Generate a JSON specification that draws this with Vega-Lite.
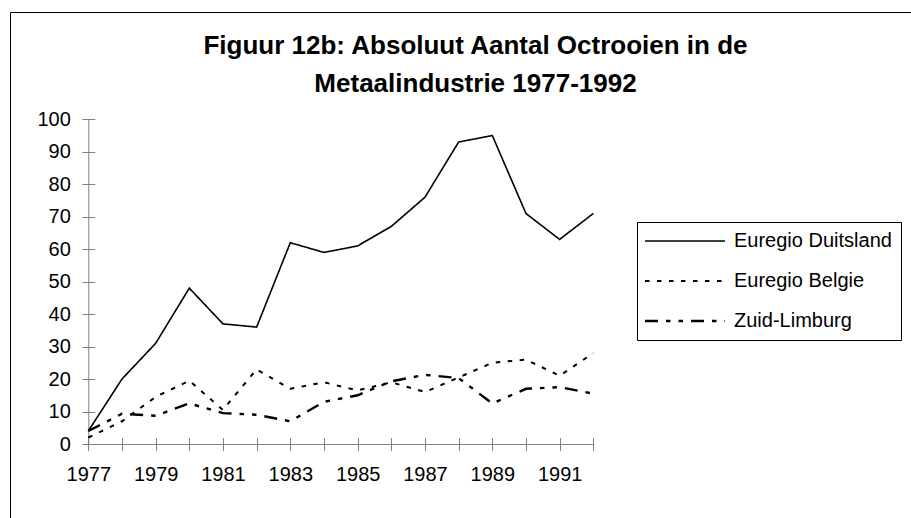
{
  "$schema": "https://vega.github.io/schema/vega-lite/v6.json",
  "autosize": {"type": "none"},
  "padding": {"left": 10, "top": 12, "right": 0, "bottom": 0},
  "width": 901,
  "height": 506,
  "config": {
    "font": "Liberation Sans",
    "view": {"stroke": "black", "strokeWidth": 1}
  },
  "title": {
    "text": ["Figuur 12b: Absoluut Aantal Octrooien in de", "Metaalindustrie 1977-1992"],
    "font": "Liberation Sans",
    "fontSize": 26,
    "fontWeight": "bold",
    "color": "black",
    "anchor": "middle",
    "baseline": "top",
    "offset": -85,
    "dx": 15,
    "lineHeight": 38
  },
  "data": {
    "values": [
      {"year": 1977, "series": "Euregio Duitsland", "value": 4},
      {"year": 1978, "series": "Euregio Duitsland", "value": 20},
      {"year": 1979, "series": "Euregio Duitsland", "value": 31},
      {"year": 1980, "series": "Euregio Duitsland", "value": 48},
      {"year": 1981, "series": "Euregio Duitsland", "value": 37},
      {"year": 1982, "series": "Euregio Duitsland", "value": 36},
      {"year": 1983, "series": "Euregio Duitsland", "value": 62},
      {"year": 1984, "series": "Euregio Duitsland", "value": 59},
      {"year": 1985, "series": "Euregio Duitsland", "value": 61},
      {"year": 1986, "series": "Euregio Duitsland", "value": 67},
      {"year": 1987, "series": "Euregio Duitsland", "value": 76},
      {"year": 1988, "series": "Euregio Duitsland", "value": 93},
      {"year": 1989, "series": "Euregio Duitsland", "value": 95},
      {"year": 1990, "series": "Euregio Duitsland", "value": 71},
      {"year": 1991, "series": "Euregio Duitsland", "value": 63},
      {"year": 1992, "series": "Euregio Duitsland", "value": 71},
      {"year": 1977, "series": "Euregio Belgie", "value": 2},
      {"year": 1978, "series": "Euregio Belgie", "value": 7},
      {"year": 1979, "series": "Euregio Belgie", "value": 14.5},
      {"year": 1980, "series": "Euregio Belgie", "value": 19.5},
      {"year": 1981, "series": "Euregio Belgie", "value": 10.5},
      {"year": 1982, "series": "Euregio Belgie", "value": 23},
      {"year": 1983, "series": "Euregio Belgie", "value": 17},
      {"year": 1984, "series": "Euregio Belgie", "value": 19},
      {"year": 1985, "series": "Euregio Belgie", "value": 16.5},
      {"year": 1986, "series": "Euregio Belgie", "value": 19},
      {"year": 1987, "series": "Euregio Belgie", "value": 16},
      {"year": 1988, "series": "Euregio Belgie", "value": 20.5},
      {"year": 1989, "series": "Euregio Belgie", "value": 25},
      {"year": 1990, "series": "Euregio Belgie", "value": 26},
      {"year": 1991, "series": "Euregio Belgie", "value": 21},
      {"year": 1992, "series": "Euregio Belgie", "value": 28},
      {"year": 1977, "series": "Zuid-Limburg", "value": 4},
      {"year": 1978, "series": "Zuid-Limburg", "value": 9.3},
      {"year": 1979, "series": "Zuid-Limburg", "value": 8.7},
      {"year": 1980, "series": "Zuid-Limburg", "value": 12.5},
      {"year": 1981, "series": "Zuid-Limburg", "value": 9.5},
      {"year": 1982, "series": "Zuid-Limburg", "value": 9},
      {"year": 1983, "series": "Zuid-Limburg", "value": 7},
      {"year": 1984, "series": "Zuid-Limburg", "value": 13},
      {"year": 1985, "series": "Zuid-Limburg", "value": 15},
      {"year": 1986, "series": "Zuid-Limburg", "value": 19.3},
      {"year": 1987, "series": "Zuid-Limburg", "value": 21.3},
      {"year": 1988, "series": "Zuid-Limburg", "value": 20.3},
      {"year": 1989, "series": "Zuid-Limburg", "value": 12.5},
      {"year": 1990, "series": "Zuid-Limburg", "value": 17},
      {"year": 1991, "series": "Zuid-Limburg", "value": 17.5},
      {"year": 1992, "series": "Zuid-Limburg", "value": 15.5}
    ]
  },
  "resolve": {"axis": {"x": "independent", "y": "independent"}},
  "layer": [
    {
      "mark": {"type": "line", "stroke": "black", "strokeCap": "butt"},
      "encoding": {
        "x": {
          "field": "year", "type": "quantitative",
          "scale": {"domain": [1977, 1992], "range": [78.3, 583.3], "nice": false, "zero": false},
          "axis": {
            "orient": "bottom", "offset": -74, "title": null,
            "values": [1977,1978,1979,1980,1981,1982,1983,1984,1985,1986,1987,1988,1989,1990,1991,1992],
            "labelExpr": "datum.value % 2 === 1 ? '' + datum.value : ''",
            "labelFontSize": 20, "labelColor": "black", "labelPadding": 14, "labelFont": "Liberation Sans",
            "tickSize": 6, "tickColor": "#808080", "domainColor": "#808080", "grid": false,
            "labelOverlap": false, "labelFlush": false
          }
        },
        "y": {
          "field": "value", "type": "quantitative",
          "scale": {"domain": [0, 100], "range": [432, 107.3], "nice": false},
          "axis": {
            "orient": "left", "offset": -78.3, "title": null,
            "values": [0,10,20,30,40,50,60,70,80,90,100],
            "labelFontSize": 20, "labelColor": "black", "labelPadding": 12, "labelFont": "Liberation Sans",
            "tickSize": 6, "tickColor": "#808080", "domainColor": "#808080", "grid": false,
            "labelOverlap": false, "labelFlush": false
          }
        },
        "strokeDash": {
          "field": "series", "type": "nominal",
          "scale": {
            "domain": ["Euregio Duitsland", "Euregio Belgie", "Zuid-Limburg"],
            "range": [[1, 0], [4.5, 7.5], [13, 8, 4.5, 8, 4.5, 8]]
          },
          "legend": {
            "title": null, "orient": "none", "legendX": 627, "legendY": 210,
            "strokeColor": "black", "fillColor": "white", "padding": 9,
            "symbolType": "M-5,0H5", "symbolSize": 256, "symbolOffset": 29,
            "symbolStrokeColor": "black", "symbolStrokeWidth": 2,
            "labelOffset": 39, "labelFontSize": 20, "labelColor": "black", "labelFont": "Liberation Sans",
            "labelExpr": "datum.label + '\u00a0\u00a0\u00a0\u00a0'",
            "rowPadding": 20, "labelLimit": 400
          }
        },
        "strokeWidth": {
          "field": "series", "type": "nominal",
          "scale": {
            "domain": ["Euregio Duitsland", "Euregio Belgie", "Zuid-Limburg"],
            "range": [1.6, 2.4, 2.6]
          },
          "legend": null
        }
      }
    },
    {
      "mark": {"type": "line", "opacity": 0},
      "encoding": {
        "x": {
          "field": "year", "type": "quantitative",
          "axis": {
            "orient": "bottom", "offset": -80.5, "title": null,
            "values": [1977,1978,1979,1980,1981,1982,1983,1984,1985,1986,1987,1988,1989,1990,1991,1992],
            "labels": false, "domain": false, "grid": false,
            "tickSize": 13, "tickColor": "#808080"
          }
        },
        "y": {
          "field": "value", "type": "quantitative",
          "axis": {
            "orient": "left", "offset": -84.8, "title": null,
            "values": [0,10,20,30,40,50,60,70,80,90,100],
            "labels": false, "domain": false, "grid": false,
            "tickSize": 13, "tickColor": "#808080"
          }
        },
        "detail": {"field": "series"}
      }
    }
  ]
}
